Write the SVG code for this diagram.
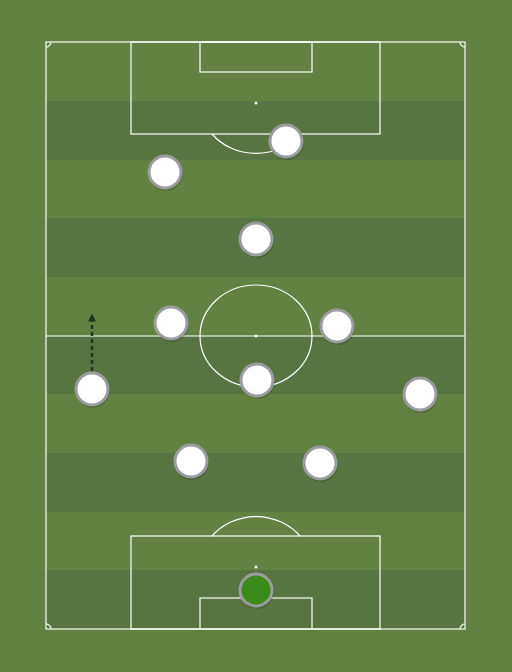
<svg xmlns="http://www.w3.org/2000/svg" width="512" height="672" viewBox="0 0 512 672">
<defs>
<style>
.ln{fill:none;stroke:#ffffff;stroke-width:1.2}
.ol{fill:none;stroke:#e6ebdc;stroke-width:1.4}
.pl{fill:#ffffff;stroke:#9a9ca0;stroke-width:3}
.gk{fill:#3c8b1a;stroke:#9a9ca0;stroke-width:3}
.sh{fill:#000000;opacity:0.15}
.dk{fill:#587541}
</style>
<marker id="ah" viewBox="0 0 10 10" refX="2" refY="5" markerWidth="3.2" markerHeight="3.2" orient="auto">
<path d="M0,0 L10,5 L0,10 z" fill="#26361e"/>
</marker>
</defs>
<rect width="512" height="672" fill="#638241"/>
<g id="stripes">
<rect class="dk" x="46" y="101" width="419" height="59"/>
<rect class="dk" x="46" y="218" width="419" height="59"/>
<rect class="dk" x="46" y="336" width="419" height="58"/>
<rect class="dk" x="46" y="453" width="419" height="59"/>
<rect class="dk" x="46" y="570" width="419" height="59"/>
</g>
<g id="pitch">
<rect class="ol" x="46" y="42" width="419" height="587"/>
<line class="ln" x1="46" y1="336" x2="465" y2="336"/>
<ellipse class="ln" cx="256" cy="336" rx="56" ry="51"/>
<circle cx="256" cy="336" r="1.5" fill="#fff"/>
<rect class="ln" x="131" y="42" width="249" height="92"/>
<rect class="ln" x="200" y="42" width="112" height="30"/>
<circle cx="256" cy="103" r="1.5" fill="#fff"/>
<path class="ln" d="M212,134 A56,51 0 0 0 300,134"/>
<rect class="ln" x="131" y="536" width="249" height="93"/>
<rect class="ol" x="200" y="598" width="112" height="31"/>
<circle cx="256" cy="567" r="1.5" fill="#fff"/>
<path class="ln" d="M212,536 A56,51 0 0 1 300,536"/>
<path class="ol" d="M46,47 A5,5 0 0 0 51,42"/>
<path class="ol" d="M460,42 A5,5 0 0 0 465,47"/>
<path class="ol" d="M46,624 A5,5 0 0 1 51,629"/>
<path class="ol" d="M460,629 A5,5 0 0 1 465,624"/>
</g>
<g id="connectors">
<line x1="92" y1="371" x2="92" y2="320" stroke="#26361e" stroke-width="2.5" stroke-dasharray="4,3" marker-end="url(#ah)"/>
</g>
<g id="p1"><circle class="sh" cx="287" cy="143" r="17"/><circle class="pl" cx="286" cy="141" r="16"/></g>
<g id="p2"><circle class="sh" cx="166" cy="174" r="17"/><circle class="pl" cx="165" cy="172" r="16"/></g>
<g id="p3"><circle class="sh" cx="257" cy="241" r="17"/><circle class="pl" cx="256" cy="239" r="16"/></g>
<g id="p4"><circle class="sh" cx="172" cy="325" r="17"/><circle class="pl" cx="171" cy="323" r="16"/></g>
<g id="p5"><circle class="sh" cx="338" cy="328" r="17"/><circle class="pl" cx="337" cy="326" r="16"/></g>
<g id="p6"><circle class="sh" cx="93" cy="391" r="17"/><circle class="pl" cx="92" cy="389" r="16"/></g>
<g id="p7"><circle class="sh" cx="258" cy="382" r="17"/><circle class="pl" cx="257" cy="380" r="16"/></g>
<g id="p8"><circle class="sh" cx="421" cy="396" r="17"/><circle class="pl" cx="420" cy="394" r="16"/></g>
<g id="p9"><circle class="sh" cx="192" cy="463" r="17"/><circle class="pl" cx="191" cy="461" r="16"/></g>
<g id="p10"><circle class="sh" cx="321" cy="465" r="17"/><circle class="pl" cx="320" cy="463" r="16"/></g>
<g id="gk"><circle class="sh" cx="257" cy="592" r="17"/><circle class="gk" cx="256" cy="590" r="16"/></g>
</svg>
